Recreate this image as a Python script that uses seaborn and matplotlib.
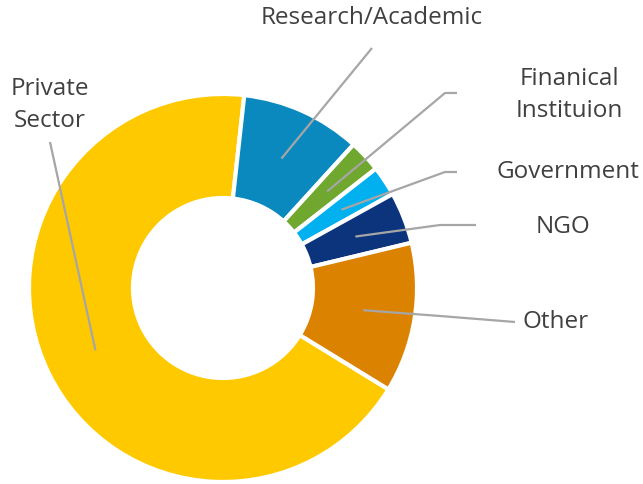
import matplotlib
matplotlib.use("Agg")
import matplotlib.pyplot as plt
import numpy as np
import seaborn as sns

# Share of respondents by sector (percent), clockwise from the top
sectors = ['Private Sector', 'Research/Academic', 'Finanical\nInstituion',
           'Government', 'NGO', 'Other']
shares = [68.0, 10.0, 2.7, 2.5, 4.3, 12.5]
colors = ['#FFC900', '#0A89BF', '#6FA72F', '#00B0EF', '#0B347C', '#DB8200']

sns.set_theme(style="white")
plt.rcParams['font.family'] = ['Open Sans', 'DejaVu Sans']

W, H = 643, 484
fig = plt.figure(figsize=(W / 100, H / 100), dpi=100)
ax = fig.add_axes([0, 0, 1, 1])

cx, cy = 223, H - 288
r_out, r_in = 194, 90

wedges, _ = ax.pie(shares, colors=colors, startangle=-31.5, counterclock=False,
                   center=(cx, cy), radius=r_out,
                   wedgeprops=dict(width=r_out - r_in, edgecolor='white', linewidth=3))

# label layout in pixel coords (y down): text centre and leader path (outer part)
layout = {
    'Private Sector': ((50, 105), [(50, 142)]),
    'Research/Academic': ((372, 18), [(372, 48)]),
    'Finanical\nInstituion': ((569, 95), [(445, 93), (457, 93)]),
    'Government': ((568, 172), [(445, 172), (457, 172)]),
    'NGO': ((563, 227), [(440, 225), (476, 225)]),
    'Other': ((556, 322), [(440, 316), (515, 322)]),
}

r_mid = (r_out + r_in) / 2
for w, name in zip(wedges, sectors):
    (tx, ty), path = layout[name]
    ang = np.deg2rad((w.theta1 + w.theta2) / 2)
    px, py = cx + r_mid * np.cos(ang), cy + r_mid * np.sin(ang)
    xs = [px] + [p[0] for p in path]
    ys = [py] + [H - p[1] for p in path]
    ax.plot(xs, ys, color='#A6A6A6', lw=1.6, solid_capstyle='butt', zorder=3)
    ax.text(tx, H - ty, name.replace('Private Sector', 'Private\nSector'),
            ha='center', va='center', fontsize=17.5, color='#404040',
            linespacing=1.45)

ax.set_xlim(0, W)
ax.set_ylim(0, H)
ax.set_aspect('equal')
ax.axis('off')

fig.savefig('out.png', dpi=100)
